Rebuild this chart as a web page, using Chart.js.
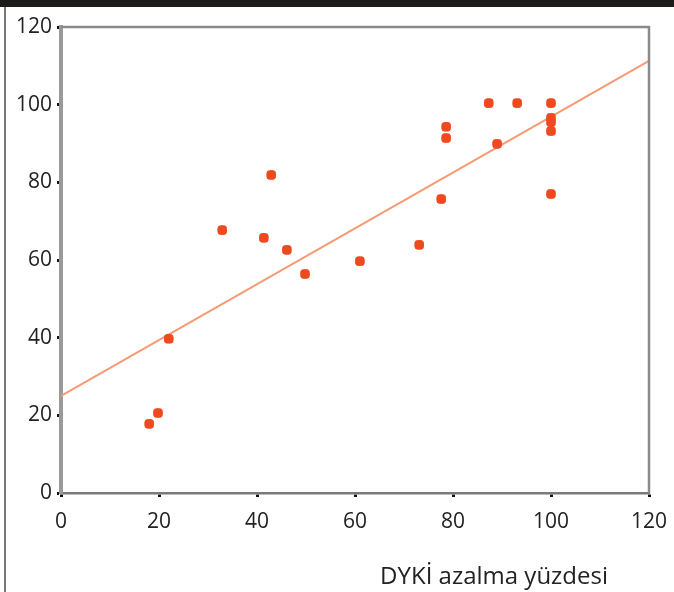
<!DOCTYPE html>
<html>
<head>
<meta charset="utf-8">
<script src="https://cdn.jsdelivr.net/npm/chart.js@4.4.1/dist/chart.umd.min.js"></script>
<style>
  body { margin: 0; background: #fff; }
  #wrap { position: relative; width: 674px; height: 592px; }
</style>
</head>
<body>
<div id="wrap"><canvas id="js_scatter"></canvas></div>
<script>
// data
const xValues = [18, 19.8, 22, 32.9, 41.4, 42.9, 46.1, 49.8, 61, 73.1, 77.6, 78.6, 78.6, 87.3, 89, 93.1, 100, 100, 100, 100, 100];
const yValues = [17.8, 20.6, 39.7, 67.7, 65.7, 81.9, 62.6, 56.4, 59.7, 63.9, 75.7, 94.3, 91.4, 100.4, 89.9, 100.4, 100.4, 96.6, 95.5, 93.2, 77];
const trendX = [0, 120];
const trendY = [25, 111.3];
const axisTicks = [0, 20, 40, 60, 80, 100, 120];
const xTitle = 'DYKİ azalma yüzdesi';

const fontFamily = '"Open Sans", "Noto Sans", sans-serif';
const pointColor = '#ef4a1f';
const lineColor = '#f59a72';

// frame bits: black strip at top, left page rule, top/right plot border, axis title
const framePlugin = {
  id: 'frame',
  beforeDraw: (chart) => {
    const c = chart.ctx;
    c.save();
    c.fillStyle = '#fff';
    c.fillRect(0, 0, chart.width, chart.height);
    c.restore();
  },
  afterDraw: (chart) => {
    const c = chart.ctx;
    const area = chart.chartArea;
    c.save();
    c.fillStyle = '#1e1b1b';
    c.fillRect(0, 0, chart.width, 7);
    c.strokeStyle = '#777';
    c.lineWidth = 2;
    c.beginPath();
    c.moveTo(5, 7);
    c.lineTo(5, chart.height);
    c.stroke();
    c.strokeStyle = '#8a8a8a';
    c.lineWidth = 2.5;
    c.beginPath();
    c.moveTo(area.left, area.top);
    c.lineTo(area.right, area.top);
    c.lineTo(area.right, area.bottom);
    c.stroke();
    c.fillStyle = '#222';
    c.font = '24px ' + fontFamily;
    c.textAlign = 'right';
    c.textBaseline = 'middle';
    c.fillText(xTitle, 608, 577);
    c.restore();
  },
};

const scatterData = xValues.map((x, i) => ({ x, y: yValues[i] }));
const trendData = trendX.map((x, i) => ({ x, y: trendY[i] }));

const axisBase = {
  type: 'linear',
  min: 0,
  max: 120,
  afterBuildTicks: (axis) => {
    axis.ticks = axisTicks.map(v => ({ value: v }));
  },
  grid: {
    display: true,
    drawOnChartArea: false,
    drawTicks: true,
    tickLength: 4,
    tickWidth: 3,
    tickColor: '#111',
  },
  ticks: {
    color: '#222',
    font: { family: fontFamily, size: 21 },
  },
};

document.addEventListener('DOMContentLoaded', () => {
  const ctx = document.getElementById('js_scatter');
  new Chart(ctx, {
    type: 'scatter',
    data: {
      datasets: [{
        label: 'Hastalar',
        data: scatterData,
        backgroundColor: pointColor,
        borderColor: pointColor,
        pointStyle: 'rectRounded',
        pointRadius: 5,
        order: 1,
      }, {
        type: 'line',
        label: 'Eğilim',
        data: trendData,
        borderColor: lineColor,
        borderWidth: 2,
        pointRadius: 0,
        fill: false,
        order: 2,
      }],
    },
    options: {
      responsive: true,
      maintainAspectRatio: false,
      animation: false,
      layout: { padding: { left: 0, top: 27, right: 25, bottom: 0 } },
      plugins: {
        legend: { display: false },
        tooltip: { enabled: false },
      },
      scales: {
        x: {
          ...axisBase,
          border: { display: true, color: '#7a7a7a', width: 2.5 },
          ticks: { ...axisBase.ticks, padding: 12, maxRotation: 0 },
          afterFit: (axis) => {
            axis.height = 99;
            axis.paddingLeft = 0;
            axis.paddingRight = 0;
          },
        },
        y: {
          ...axisBase,
          border: { display: true, color: '#9a9a9a', width: 4 },
          ticks: { ...axisBase.ticks, padding: 5 },
          afterFit: (axis) => {
            axis.width = 61;
            axis.paddingTop = 0;
            axis.paddingBottom = 0;
          },
        },
      },
    },
    plugins: [framePlugin],
  });
});
</script>
</body>
</html>
